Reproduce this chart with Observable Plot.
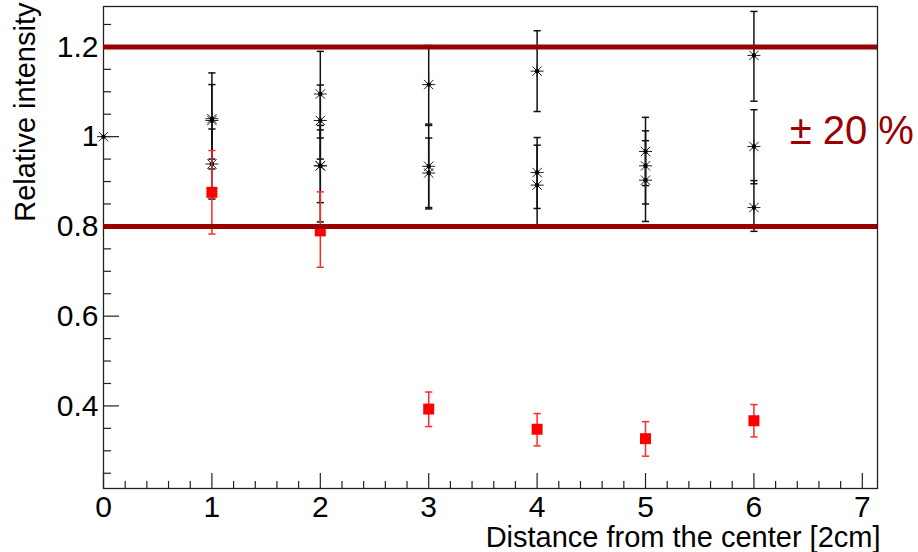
<!DOCTYPE html>
<html>
<head>
<meta charset="utf-8">
<script src="https://cdn.jsdelivr.net/npm/d3@7"></script>
<script src="https://cdn.jsdelivr.net/npm/@observablehq/plot@0.6"></script>
<style>
  html, body { margin: 0; padding: 0; background: #fff; }
  #chart svg { display: block; }
</style>
</head>
<body>
<div id="chart"></div>
<script>
// ---- data ----
const xTickValues = [0, 1, 2, 3, 4, 5, 6, 7];
const yTickValues = [0.4, 0.6, 0.8, 1.0, 1.2];
const bandValues = [0.8, 1.2];
const bandLabel = "± 20 %";
const xTitle = "Distance from the center [2cm]";
const yTitle = "Relative intensity";

// black asterisk measurements (several per position)
const blackX  = [0,   1,     1,     1,     2,     2,     2,     2,     3,     3,     3,     4,     4,     4,     5,     5,     5,     6,     6,     6];
const blackY  = [1.0, 1.040, 1.036, 0.939, 1.095, 1.036, 0.935, 0.935, 1.116, 0.934, 0.919, 1.146, 0.920, 0.892, 0.967, 0.935, 0.903, 1.181, 0.978, 0.842];
const blackLo = [1.0, 0.928, 0.950, 0.861, 0.997, 0.950, 0.853, 0.810, 1.028, 0.842, 0.839, 1.056, 0.840, 0.803, 0.891, 0.850, 0.811, 1.079, 0.895, 0.789];
const blackHi = [1.0, 1.142, 1.116, 1.017, 1.190, 1.115, 1.015, 1.025, 1.203, 1.025, 0.997, 1.236, 0.998, 0.981, 1.043, 1.013, 0.991, 1.279, 1.060, 0.902];

// red square measurements
const redX  = [1,     2,     3,     4,     5,     6];
const redY  = [0.876, 0.790, 0.393, 0.348, 0.327, 0.367];
const redLo = [0.783, 0.709, 0.354, 0.311, 0.288, 0.331];
const redHi = [0.969, 0.877, 0.431, 0.383, 0.365, 0.403];

// ---- build tables ----
const black = blackX.map((x, i) => ({x, y: blackY[i], lo: blackLo[i], hi: blackHi[i]}));
const blackBars = black.filter(d => d.hi > d.lo);
const red = redX.map((x, i) => ({x, y: redY[i], lo: redLo[i], hi: redHi[i]}));

const W = 918, H = 552;
const M = {top: 6, right: 41, bottom: 64, left: 103};
const plotW = W - M.left - M.right;
const plotH = H - M.top - M.bottom;
const xDomain = [0, 7.14];
const yDomain = [0.216, 1.29];

const xMinor = d3.range(0.2, 7.1, 0.2).filter(v => Math.abs(v - Math.round(v)) > 1e-6);
const yMinor = d3.range(0.25, 1.27, 0.05).filter(v => Math.abs(v * 5 - Math.round(v * 5)) > 1e-6);

const asterisk = {
  draw(ctx, size) {
    const r = Math.sqrt(size / Math.PI);
    const d = r * 0.72;
    ctx.moveTo(-r, 0); ctx.lineTo(r, 0);
    ctx.moveTo(0, -r); ctx.lineTo(0, r);
    ctx.moveTo(-d, -d); ctx.lineTo(d, d);
    ctx.moveTo(-d, d); ctx.lineTo(d, -d);
  }
};
const cap = {
  draw(ctx, size) {
    const r = Math.sqrt(size / Math.PI);
    ctx.moveTo(-r, 0); ctx.lineTo(r, 0);
  }
};

const font = "'Liberation Sans', Arial, Helvetica, sans-serif";

const chart = Plot.plot({
  width: W,
  height: H,
  marginTop: M.top,
  marginRight: M.right,
  marginBottom: M.bottom,
  marginLeft: M.left,
  style: {fontFamily: font, fontSize: "30px", color: "#000", background: "#fff"},
  x: {domain: xDomain, ticks: xTickValues, tickSize: 0, tickPadding: 7, label: null, tickFormat: d => String(d)},
  y: {domain: yDomain, ticks: yTickValues, tickSize: 0, tickPadding: 5, label: null, tickFormat: d => String(d)},
  marks: [
    // inward ticks
    Plot.tickX(xTickValues, {x: d => d, insetTop: plotH - 15, stroke: "#222", strokeWidth: 1.2}),
    Plot.tickX(xMinor, {x: d => d, insetTop: plotH - 7, stroke: "#222", strokeWidth: 1.2}),
    Plot.tickY(yTickValues, {y: d => d, insetRight: plotW - 16, stroke: "#222", strokeWidth: 1.2}),
    Plot.tickY(yMinor, {y: d => d, insetRight: plotW - 8, stroke: "#222", strokeWidth: 1.2}),
    Plot.frame({stroke: "#222", strokeWidth: 1.3}),

    // black error bars and asterisks
    Plot.ruleX(blackBars, {x: "x", y1: "lo", y2: "hi", stroke: "#111", strokeWidth: 1.5}),
    Plot.dot(blackBars, {x: "x", y: "lo", symbol: cap, r: 3.6, fill: "none", stroke: "#111", strokeWidth: 1.5}),
    Plot.dot(blackBars, {x: "x", y: "hi", symbol: cap, r: 3.6, fill: "none", stroke: "#111", strokeWidth: 1.5}),
    Plot.dot(black, {x: "x", y: "y", symbol: asterisk, r: 6.5, fill: "none", stroke: "#222", strokeWidth: 1}),
    Plot.dot(black, {x: "x", y: "y", r: 2.2, fill: "#000", stroke: "none"}),

    // red error bars and squares
    Plot.ruleX(red, {x: "x", y1: "lo", y2: "hi", stroke: "#ff2a2a", strokeWidth: 1.5}),
    Plot.dot(red, {x: "x", y: "lo", symbol: cap, r: 3.6, fill: "none", stroke: "#ff2a2a", strokeWidth: 1.5}),
    Plot.dot(red, {x: "x", y: "hi", symbol: cap, r: 3.6, fill: "none", stroke: "#ff2a2a", strokeWidth: 1.5}),
    Plot.dot(red, {x: "x", y: "y", symbol: "square", r: 6.2, fill: "#ff0000", stroke: "none"}),

    // ±20% band lines
    Plot.ruleY(bandValues, {y: d => d, stroke: "#9a0000", strokeWidth: 5}),
    Plot.text([bandLabel], {x: 6.33, y: 1.013, text: d => d, textAnchor: "start", fill: "#9a0000", fontSize: 40}),

    // axis titles
    Plot.text([xTitle], {frameAnchor: "bottom-right", text: d => d, textAnchor: "end", lineAnchor: "bottom", dx: 3, dy: 58, fontSize: 29}),
    Plot.text([yTitle], {frameAnchor: "top-left", text: d => d, rotate: -90, textAnchor: "end", lineAnchor: "middle", dx: -78, dy: -4, fontSize: 29})
  ]
});

document.getElementById("chart").appendChild(chart);
</script>
</body>
</html>
